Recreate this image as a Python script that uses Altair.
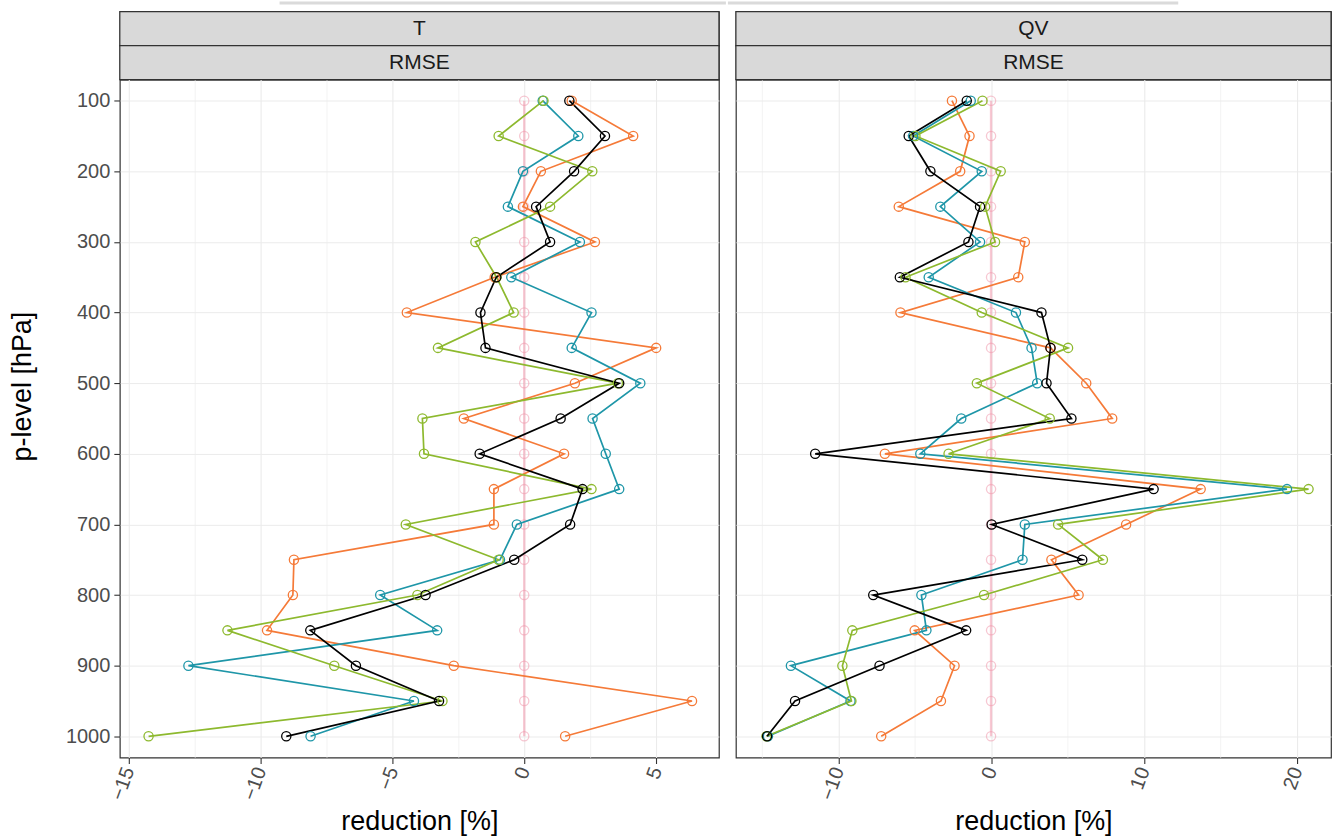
import altair as alt
import pandas as pd

# ---------------- data ----------------
levels = [100, 150, 200, 250, 300, 350, 400, 450, 500, 550,
          600, 650, 700, 750, 800, 850, 900, 950, 1000]

series_names = ["exp_orange", "exp_teal", "exp_green", "exp_black", "reference"]
series_colors = ["#F57A38", "#1E96A8", "#8DB92E", "#000000", "#F29AAE"]

variables = ["T", "QV"]
score_label = "RMSE"

T_orange = [1.8, 4.13, 0.63, -0.05, 2.68, -1.12, -4.45, 5.0, 1.92, -2.29,
            1.51, -1.15, -1.15, -8.73, -8.77, -9.75, -2.67, 6.36, 1.55]
T_teal = [0.7, 2.05, -0.05, -0.62, 2.11, -0.49, 2.55, 1.8, 4.4, 2.59,
          3.09, 3.6, -0.28, -0.92, -5.46, -3.3, -12.73, -4.18, -8.1]
T_green = [0.73, -0.97, 2.58, 0.98, -1.85, -1.05, -0.4, -3.27, 3.55, -3.86,
           -3.8, 2.55, -4.49, -0.97, -4.05, -11.25, -7.2, -3.1, -14.24]
T_black = [1.71, 3.06, 1.89, 0.45, 0.98, -1.06, -1.66, -1.47, 3.6, 1.38,
           -1.69, 2.21, 1.74, -0.38, -3.74, -8.11, -6.38, -3.23, -9.02]

QV_orange = [-2.56, -1.41, -2.02, -6.04, 2.21, 1.78, -5.93, 3.89, 6.23, 7.93,
             -6.95, 13.72, 8.84, 3.95, 5.73, -5.0, -2.39, -3.28, -7.19]
QV_teal = [-1.33, -5.1, -0.61, -3.32, -0.72, -4.08, 1.63, 2.65, 3.02, -1.95,
           -4.63, 19.37, 2.21, 2.06, -4.56, -4.23, -13.1, -9.2, -14.6]
QV_green = [-0.56, -4.95, 0.63, -0.39, 0.26, -5.6, -0.61, 5.04, -0.93, 3.84,
            -2.78, 20.78, 4.39, 7.32, -0.46, -9.08, -9.73, -9.14, -14.7]
QV_black = [-1.59, -5.39, -3.97, -0.72, -1.48, -5.97, 3.3, 3.89, 3.63, 5.26,
            -11.51, 10.64, 0.04, 5.97, -7.71, -1.63, -7.3, -12.83, -14.66]

reference = [0.0] * len(levels)

T_domain = [-15.33, 7.38]
QV_domain = [-16.7, 22.25]
T_ticks = [-15, -12.5, -10, -7.5, -5, -2.5, 0, 2.5, 5]
QV_ticks = [-15, -10, -5, 0, 5, 10, 15, 20]
T_major_step = 5
QV_major_step = 10
y_ticks = [100, 200, 300, 400, 500, 600, 700, 800, 900, 1000]
y_domain = [70, 1030]

FONT = "Liberation Sans"
PLOT_H = 679
STRIP_H = 34
LEFT_W = 600
RIGHT_W = 596
GAP = 17
RULE_FROM = 160      # left end of the cut-off legend frame, relative to left panel
RULE_TO = 1060       # right end, relative to left panel
POKE_L = 7           # how far the left piece reaches past the left panel
POKE_R = 8           # how far the right piece reaches before the right panel


def make_df(values_by_series):
    rows = []
    for name, vals in zip(series_names, values_by_series):
        for lev, v in zip(levels, vals):
            rows.append({"series": name, "level": lev, "value": v})
    return pd.DataFrame(rows)


T_df = make_df([T_orange, T_teal, T_green, T_black, reference])
QV_df = make_df([QV_orange, QV_teal, QV_green, QV_black, reference])

color_scale = alt.Scale(domain=series_names, range=series_colors)


def panel(df, domain, ticks, major_step, width, show_y):
    major_test = f"abs(datum.value % {major_step}) < 0.001"
    x_enc = alt.X(
        "value:Q",
        scale=alt.Scale(domain=domain, nice=False, zero=False),
        axis=alt.Axis(
            values=ticks,
            title="reduction [%]",
            labelAngle=290,
            labelOverlap=False,
            labelExpr=f"abs(datum.value % {major_step}) < 0.001 ? datum.label : ''",
            tickOpacity=alt.condition(major_test, alt.value(1), alt.value(0)),
            gridWidth=alt.condition(major_test, alt.value(1.1), alt.value(0.6)),
        ),
    )
    if show_y:
        y_axis = alt.Axis(values=y_ticks, title="p-level [hPa]", format="d",
                          titlePadding=29, titleY=307)
    else:
        y_axis = alt.Axis(values=y_ticks, title=None, labels=False, ticks=False)
    y_enc = alt.Y("level:Q", scale=alt.Scale(domain=y_domain, reverse=True, nice=False, zero=False),
                  axis=y_axis)
    col = alt.Color("series:N", scale=color_scale, legend=None)

    ref = df[df["series"] == "reference"]
    exps = df[df["series"] != "reference"]

    ref_line = alt.Chart(ref).mark_line(strokeWidth=2.4, opacity=0.55).encode(
        x=x_enc, y=y_enc, color=col, order="level:Q")
    ref_pts = alt.Chart(ref).mark_point(shape="circle", filled=False, size=85,
                                        strokeWidth=1.3, opacity=0.55).encode(
        x=x_enc, y=y_enc, color=col)
    lines = alt.Chart(exps).mark_line(strokeWidth=1.7).encode(
        x=x_enc, y=y_enc, color=col, detail="series:N", order="level:Q")
    pts = alt.Chart(exps).mark_point(shape="circle", filled=False, size=85,
                                     strokeWidth=1.3, opacity=1).encode(
        x=x_enc, y=y_enc, color=col)
    return alt.layer(ref_line, ref_pts, lines, pts).properties(width=width, height=PLOT_H)


def strip(label, width, rule_from=None, rule_to=None):
    d = pd.DataFrame({"label": [label]})
    rect = alt.Chart(d).mark_rect(fill="#D9D9D9", stroke="#333333", strokeWidth=1.2).encode(
        x=alt.value(0), x2=alt.value(width), y=alt.value(0), y2=alt.value(STRIP_H))
    txt = alt.Chart(d).mark_text(font=FONT, fontSize=21, color="#1A1A1A").encode(
        x=alt.value(width / 2), y=alt.value(STRIP_H / 2), text="label:N")
    layers = [rect, txt]
    if rule_from is not None:
        # remnant of a legend frame cut off above the panels (a thin filled band)
        top = alt.Chart(d).mark_rect(fill="#DADADA", strokeWidth=0).encode(
            x=alt.value(rule_from), x2=alt.value(rule_to),
            y=alt.value(-10), y2=alt.value(-7))
        layers.append(top)
    return alt.layer(*layers).properties(width=width, height=STRIP_H)


left = alt.vconcat(strip(variables[0], LEFT_W, RULE_FROM, LEFT_W + POKE_L),
                   strip(score_label, LEFT_W),
                   panel(T_df, T_domain, T_ticks, T_major_step, LEFT_W, True),
                   spacing=0, bounds="flush")
right = alt.vconcat(strip(variables[1], RIGHT_W, -POKE_R, RULE_TO - LEFT_W - GAP),
                    strip(score_label, RIGHT_W),
                    panel(QV_df, QV_domain, QV_ticks, QV_major_step, RIGHT_W, False),
                    spacing=0, bounds="flush")

chart = alt.hconcat(left, right, spacing=0).properties(
    padding={"left": 7, "top": 0, "right": 3, "bottom": 0},
    background="white",
).configure_view(
    stroke="#333333", strokeWidth=1.2
).configure_axis(
    labelFont=FONT, labelFontSize=20, labelColor="#4D4D4D", labelPadding=4,
    titleFont=FONT, titleFontSize=27, titleFontWeight="normal", titleColor="#000000",
    tickColor="#333333", tickSize=6, tickWidth=1.1,
    domain=False, gridColor="#EBEBEB",
).configure_axisX(titlePadding=6)

chart.save("out.html", embed_options={"renderer": "svg", "actions": False})
